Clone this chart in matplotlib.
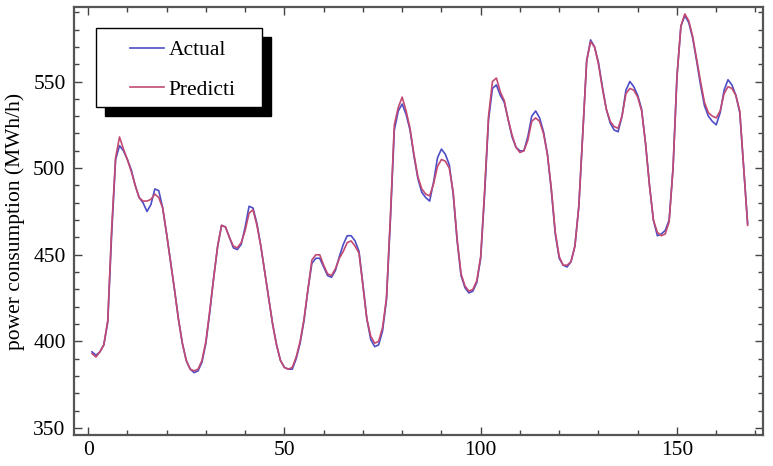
#!/usr/bin/env python3
"""
Actual vs predicted hourly power consumption over one week.
"""

import matplotlib
matplotlib.use('Agg')
import matplotlib.pyplot as plt
from matplotlib.patches import Rectangle
from matplotlib.ticker import MultipleLocator
import numpy as np

plt.rcParams['font.family'] = ['Liberation Serif', 'DejaVu Serif']

# hour index 1..168
hours = list(range(1, 169))

actual = [
    394, 392, 394, 398, 411, 462, 505, 513, 510, 505,
    499, 490, 483, 480, 475, 479, 488, 487, 477, 462,
    446, 430, 413, 399, 389, 384, 382, 383, 388, 399,
    417, 437, 455, 467, 466, 460, 454, 453, 456, 466,
    478, 477, 468, 455, 440, 425, 410, 398, 389, 385,
    384, 384, 390, 399, 412, 430, 445, 448, 448, 443,
    438, 437, 441, 449, 456, 461, 461, 458, 452, 433,
    413, 401, 397, 398, 406, 424, 470, 522, 533, 537,
    531, 522, 507, 494, 486, 483, 481, 492, 506, 511,
    508, 502, 485, 458, 438, 431, 428, 429, 434, 448,
    485, 528, 546, 548, 542, 538, 528, 518, 512, 510,
    510, 518, 530, 533, 529, 521, 508, 487, 462, 448,
    444, 443, 446, 455, 478, 520, 562, 574, 570, 561,
    547, 534, 526, 522, 521, 530, 545, 550, 547, 542,
    534, 514, 490, 470, 461, 462, 464, 470, 500, 553,
    582, 588, 584, 575, 562, 548, 536, 530, 527, 525,
    532, 545, 551, 548, 542, 532, 500, 468,
]

predicted = [
    393, 391, 394, 398, 412, 465, 506, 518, 511, 505,
    498, 490, 483, 481, 481, 482, 485, 483, 477, 462,
    446, 430, 413, 399, 389, 384, 383, 384, 389, 400,
    418, 437, 455, 467, 466, 460, 455, 454, 457, 464,
    474, 476, 467, 455, 440, 425, 410, 398, 389, 385,
    384, 385, 391, 400, 413, 430, 447, 450, 450, 444,
    439, 438, 442, 448, 452, 457, 458, 455, 451, 432,
    413, 403, 399, 400, 408, 425, 472, 525, 535, 541,
    533, 523, 508, 495, 488, 485, 484, 491, 501, 505,
    504, 500, 486, 459, 439, 432, 429, 430, 435, 449,
    487, 530, 550, 552, 544, 539, 528, 519, 512, 509,
    510, 516, 527, 529, 527, 520, 508, 488, 463, 449,
    444, 444, 446, 455, 478, 520, 562, 573, 570, 560,
    546, 534, 527, 524, 523, 530, 543, 546, 545, 541,
    533, 514, 490, 470, 463, 461, 462, 469, 500, 553,
    582, 589, 585, 576, 563, 550, 538, 532, 530, 529,
    533, 543, 547, 546, 542, 533, 500, 467,
]

fig = plt.figure(figsize=(7.73, 4.66), dpi=100)
ax = fig.add_axes([0.0957, 0.0665, 0.8913, 0.9185])

ax.plot(hours, actual, color='#4d4dc6', linewidth=1.2, label='Actual',
        solid_joinstyle='round')
ax.plot(hours, predicted, color='#c24a72', linewidth=1.2, label='Predicti',
        solid_joinstyle='round')

ax.set_xlim(-3.6, 171.9)
ax.set_ylim(346, 593)
ax.set_xticks([0, 50, 100, 150])
ax.set_yticks([350, 400, 450, 500, 550])
ax.xaxis.set_minor_locator(MultipleLocator(10))
ax.yaxis.set_minor_locator(MultipleLocator(10))
ax.tick_params(which='both', direction='in', top=True, right=True,
               color='#444444', labelsize=15.5, width=1.0)
ax.tick_params(which='major', length=6, pad=4)
ax.tick_params(axis='y', which='major', pad=6)
ax.tick_params(which='minor', length=3.5)
for sp in ax.spines.values():
    sp.set_color('#555555')
    sp.set_linewidth(1.6)

ax.set_ylabel('power consumption (MWh/h)', fontsize=15.5, labelpad=6)

# legend box with hard black drop shadow
ax.add_patch(Rectangle((0.0450, 0.745), 0.2409, 0.185, transform=ax.transAxes,
                       facecolor='black', edgecolor='black', zorder=5))
ax.add_patch(Rectangle((0.0319, 0.766), 0.2409, 0.185, transform=ax.transAxes,
                       facecolor='white', edgecolor='black', linewidth=1.0, zorder=6))
leg = ax.legend(loc='upper left', bbox_to_anchor=(0.0813, 0.922), frameon=False,
                fontsize=15.5, handlelength=1.6, handletextpad=0.2,
                borderpad=0, borderaxespad=0, labelspacing=0.9)
leg.set_zorder(7)

plt.savefig('out.png', dpi=100)
